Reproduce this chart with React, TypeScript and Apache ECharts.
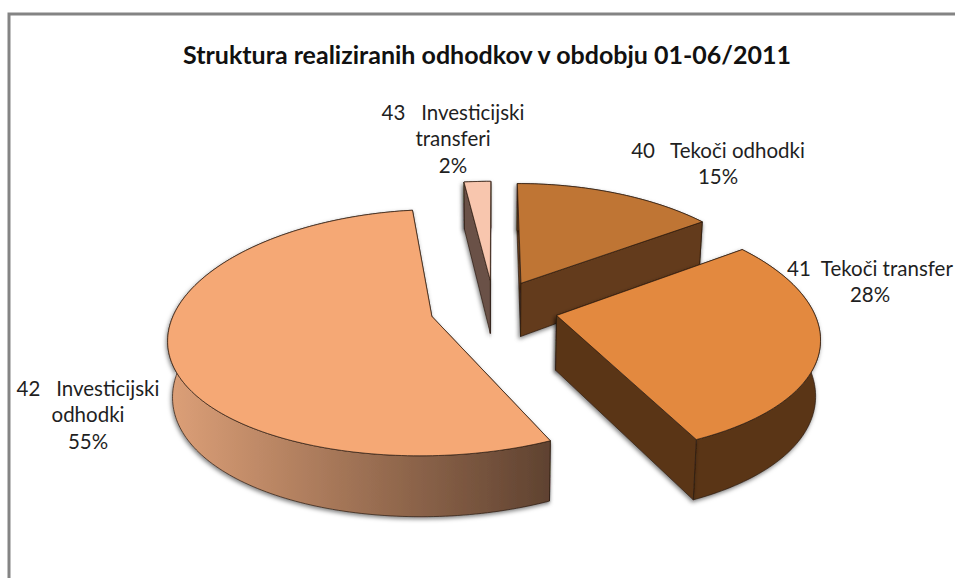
import React, { useEffect, useRef } from "react";
import * as echarts from "echarts";

const titleText = "Struktura realiziranih odhodkov v obdobju 01-06/2011";
const sliceValues = [15, 28, 55, 2];
const sliceLabels = [
  "40   Tekoči odhodki\n15%",
  "41  Tekoči transfer\n28%",
  "42   Investicijski\nodhodki\n55%",
  "43   Investicijski\ntransferi\n2%",
];
const topColors = ["#BF7534", "#E3893F", "#F5A875", "#F8C6AE"];
const sideColors = ["#633A1A", "#5A3619", "#8E6444", "#6B5147"];
const labelAnchors = [
  [718, 163],
  [870, 281],
  [88, 414],
  [453, 138],
];
const explosions = [0.24, 0.25, 0.25, 0.24];

const CX = 494;
const CY = 308;
const RX = 256;
const RY = 118.8;
const PERSP_X = 0.16;
const PERSP_Y = 0.131;
const DEPTH = 54.5;
const DEPTH_GROW = 0.11;
const BOTTOM_SHRINK = 0.015;

function project(px: number, py: number, z: number): number[] {
  const fx = 1 / (1 - PERSP_X * py);
  const fy = 1 / (1 - PERSP_Y * py);
  return [
    CX + RX * px * fx * (1 - BOTTOM_SHRINK * z),
    CY + RY * py * fy + z * DEPTH * (1 + DEPTH_GROW * py),
  ];
}

function App() {
  const ref = useRef<HTMLDivElement>(null);
  useEffect(() => {
    if (!ref.current) return;
    const chart = echarts.init(ref.current, undefined, { renderer: "svg" });
    const total = sliceValues.reduce((a, b) => a + b, 0);
    const starts: number[] = [];
    let acc = 0;
    sliceValues.forEach((v) => {
      starts.push(acc);
      acc += (v / total) * Math.PI * 2;
    });

    const renderItem = (params: any, api: any) => {
      const i = params.dataIndex;
      const a0 = starts[i];
      const a1 = a0 + (api.value(0) / total) * Math.PI * 2;
      const mid = (a0 + a1) / 2;
      const ox = Math.sin(mid) * explosions[i];
      const oy = -Math.cos(mid) * explosions[i];
      const steps = Math.max(6, Math.round((a1 - a0) * 50));
      const arc = (z: number) => {
        const pts: number[][] = [];
        for (let s = 0; s <= steps; s++) {
          const t = a0 + ((a1 - a0) * s) / steps;
          pts.push(project(ox + Math.sin(t), oy - Math.cos(t), z));
        }
        return pts;
      };
      const apex = (z: number) => project(ox, oy, z);
      const edge = "#2a1a10";
      const shadow = {
        shadowBlur: 4,
        shadowOffsetX: -1,
        shadowOffsetY: 2,
        shadowColor: "rgba(0,0,0,0.5)",
      };
      const side: any =
        i === 2
          ? new echarts.graphic.LinearGradient(0, 0, 1, 0, [
              { offset: 0, color: "#DDA078" },
              { offset: 1, color: "#5F4230" },
            ])
          : sideColors[i];
      const wall = (points: number[][], fill: any) => ({
        type: "polygon",
        shape: { points },
        style: { fill, stroke: edge, lineWidth: 0.7, ...shadow },
      });
      const top0 = arc(0);
      const bot = arc(1);
      const wallStart = wall([apex(0), top0[0], bot[0], apex(1)], sideColors[i]);
      const wallEnd = wall([apex(0), top0[steps], bot[steps], apex(1)], sideColors[i]);
      const wallArc = wall([...top0, ...bot.slice().reverse()], side);
      // Back-facing walls are painted first, the wall that faces the viewer last.
      const walls = i === 3 ? [wallEnd, wallArc, wallStart] : [wallStart, wallArc, wallEnd];
      const children: any[] = [
        ...walls,
        {
          type: "polygon",
          shape: { points: [apex(0), ...top0] },
          style: { fill: topColors[i], stroke: edge, lineWidth: 0.7 },
        },
        {
          type: "text",
          x: labelAnchors[i][0],
          y: labelAnchors[i][1],
          style: {
            text: sliceLabels[i],
            fill: "#1f1f1f",
            font: "20.5px Lato",
            lineHeight: 26.5,
            align: "center",
            verticalAlign: "middle",
          },
        },
      ];
      return { type: "group", children };
    };

    chart.setOption({
      animation: false,
      backgroundColor: "#ffffff",
      title: {
        text: titleText,
        left: 482,
        top: 36,
        textAlign: "center",
        textStyle: {
          fontFamily: "Lato",
          fontWeight: "bold",
          fontSize: 25,
          color: "#111111",
        },
      },
      graphic: [
        {
          type: "polyline",
          shape: { points: [[9, 578], [9, 14], [955, 14]] },
          style: { stroke: "#848484", lineWidth: 3, fill: "none" },
        },
      ],
      series: [
        {
          type: "custom",
          coordinateSystem: "none",
          renderItem,
          data: sliceValues.map((v) => [v]),
          clip: false,
        },
      ],
    });
    return () => chart.dispose();
  }, []);
  return (
    <div
      ref={ref}
      style={{ position: "fixed", left: 0, top: 0, width: 955, height: 578 }}
    />
  );
}

export default App;
